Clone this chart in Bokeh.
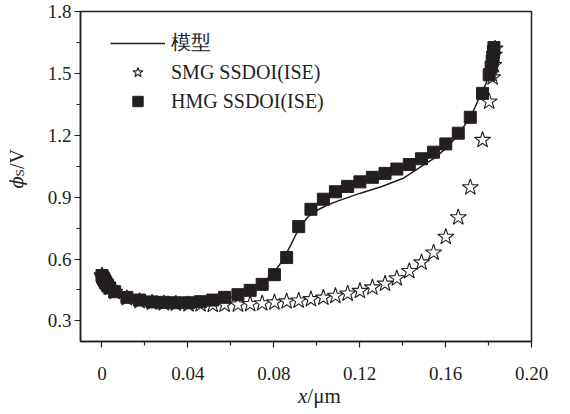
from bokeh.plotting import figure
from bokeh.models import FixedTicker, Legend, LegendItem, Range1d, Div
from bokeh.layouts import row, column
from bokeh.embed import file_html
from bokeh.resources import INLINE

# ---------------- data ----------------
model_x = [0.0, 0.002, 0.005, 0.010, 0.015, 0.020, 0.030, 0.040, 0.050, 0.055, 0.060, 0.065,
           0.070, 0.075, 0.080, 0.084, 0.088, 0.092, 0.096, 0.100, 0.105, 0.110, 0.115, 0.120,
           0.130, 0.140, 0.150, 0.155, 0.160, 0.165, 0.170, 0.1726, 0.176, 0.1788, 0.1805,
           0.1815, 0.1825]
model_y = [0.520, 0.480, 0.440, 0.415, 0.400, 0.392, 0.386, 0.388, 0.395, 0.402, 0.413, 0.428,
           0.450, 0.485, 0.535, 0.590, 0.670, 0.755, 0.805, 0.835, 0.862, 0.882, 0.900, 0.918,
           0.950, 0.990, 1.058, 1.090, 1.135, 1.190, 1.265, 1.310, 1.390, 1.450, 1.520,
           1.570, 1.620]

smg_x = [0.0, 0.0003, 0.0007, 0.0012, 0.0018, 0.0026, 0.0036, 0.0059, 0.0116, 0.0175, 0.0233,
         0.0288, 0.0344, 0.0403, 0.0459, 0.0516, 0.0571, 0.0633, 0.0690, 0.0746, 0.0803, 0.0860,
         0.0916, 0.0973, 0.1031, 0.1087, 0.1144, 0.1201, 0.1259, 0.1318, 0.1373, 0.1431, 0.1488,
         0.1544, 0.1601, 0.1659, 0.1715, 0.1772, 0.1803, 0.1819, 0.1824, 0.1827, 0.1830]
smg_y = [0.520, 0.512, 0.503, 0.494, 0.484, 0.472, 0.460, 0.440, 0.410, 0.395, 0.388,
         0.385, 0.383, 0.380, 0.380, 0.377, 0.378, 0.379, 0.381, 0.385, 0.389, 0.394,
         0.398, 0.405, 0.412, 0.421, 0.432, 0.445, 0.462, 0.480, 0.506, 0.541, 0.583,
         0.631, 0.707, 0.802, 0.947, 1.177, 1.363, 1.480, 1.540, 1.590, 1.620]

hmg_x = [0.0, 0.0003, 0.0007, 0.0012, 0.0018, 0.0026, 0.0036, 0.0059, 0.0116, 0.0175, 0.0233,
         0.0288, 0.0344, 0.0403, 0.0459, 0.0516, 0.0571, 0.0633, 0.0690, 0.0746, 0.0803, 0.0860,
         0.0916, 0.0973, 0.1031, 0.1087, 0.1144, 0.1201, 0.1259, 0.1318, 0.1373, 0.1431, 0.1488,
         0.1544, 0.1601, 0.1659, 0.1715, 0.1772, 0.1803, 0.1812, 0.1817, 0.1820, 0.1823, 0.1825]
hmg_y = [0.520, 0.512, 0.503, 0.494, 0.484, 0.472, 0.460, 0.441, 0.414, 0.401, 0.392,
         0.390, 0.388, 0.388, 0.393, 0.401, 0.414, 0.427, 0.448, 0.477, 0.524, 0.607,
         0.757, 0.841, 0.890, 0.926, 0.952, 0.974, 0.996, 1.015, 1.036, 1.058, 1.086,
         1.118, 1.158, 1.210, 1.287, 1.403, 1.493, 1.530, 1.560, 1.580, 1.600, 1.625]

x_ticks = [0.0, 0.04, 0.08, 0.12, 0.16, 0.20]
x_tick_labels = ["0", "0.04", "0.08", "0.12", "0.16", "0.20"]
x_minor = [0.02, 0.06, 0.10, 0.14, 0.18]
y_ticks = [0.3, 0.6, 0.9, 1.2, 1.5, 1.8]
y_tick_labels = ["0.3", "0.6", "0.9", "1.2", "1.5", "1.8"]
y_minor = [0.45, 0.75, 1.05, 1.35, 1.65]

legend_labels = ["模型", "SMG SSDOI(ISE)", "HMG SSDOI(ISE)"]

# ---------------- style ----------------
INK = "#231f20"
SERIF = "Liberation Serif"

p = figure(width=520, height=382, x_range=Range1d(-0.01, 0.20), y_range=Range1d(0.2, 1.8),
           output_backend="svg", toolbar_location=None,
           min_border_left=40, min_border_right=29, min_border_top=11, min_border_bottom=38)
p.grid.visible = False
p.outline_line_color = INK
p.outline_line_width = 1.5
p.background_fill_color = "white"
p.border_fill_color = "white"

p.xaxis.ticker = FixedTicker(ticks=x_ticks, minor_ticks=x_minor)
p.xaxis.major_label_overrides = dict(zip(x_ticks, x_tick_labels))
p.yaxis.ticker = FixedTicker(ticks=y_ticks, minor_ticks=y_minor)
p.yaxis.major_label_overrides = dict(zip(y_ticks, y_tick_labels))

for ax in (p.xaxis[0], p.yaxis[0]):
    ax.axis_line_color = INK
    ax.axis_line_width = 1.5
    ax.major_tick_line_color = INK
    ax.minor_tick_line_color = INK
    ax.major_tick_line_width = 1.2
    ax.minor_tick_line_width = 1.2
    ax.major_tick_in = 0
    ax.major_tick_out = 6
    ax.minor_tick_in = 0
    ax.minor_tick_out = 4
    ax.major_label_text_font = SERIF
    ax.major_label_text_font_size = "19px"
    ax.major_label_text_color = INK
p.xaxis.major_label_standoff = 19
p.yaxis.major_label_standoff = 3

r_line = p.line(model_x, model_y, line_color=INK, line_width=1.5)
r_smg = p.scatter(smg_x, smg_y, marker="star", size=17, fill_color="white",
                  line_color=INK, line_width=1.1)
r_hmg = p.scatter(hmg_x, hmg_y, marker="square", size=12, fill_color=INK, line_color=INK)

legend = Legend(items=[LegendItem(label=legend_labels[0], renderers=[r_line]),
                       LegendItem(label=legend_labels[1], renderers=[r_smg]),
                       LegendItem(label=legend_labels[2], renderers=[r_hmg])],
                location=(30, 227), margin=0, padding=0, spacing=3,
                glyph_width=55, glyph_height=26, label_height=24, label_standoff=6,
                label_text_font=SERIF, label_text_font_size="20px", label_text_color=INK,
                background_fill_alpha=0, border_line_alpha=0)
p.add_layout(legend)

# axis titles as real HTML text beside the figure
y_title = Div(width=40, height=382, margin=0, text=(
    '<div style="display:inline-block; writing-mode:vertical-rl; transform:rotate(180deg); '
    'margin-left:7px; margin-top:149px; font-family:\'Liberation Serif\'; font-size:20px; '
    'line-height:20px; color:#231f20; white-space:nowrap">'
    '<i style="font-family:\'DejaVu Serif\'; font-size:18px">ϕ</i>'
    '<span style="font-size:13px; position:relative; left:-3px">S</span>/V</div>'))
x_title = Div(width=560, height=24, margin=0, text=(
    '<div style="margin-left:298px; padding-top:4px; font-family:\'Liberation Serif\'; '
    'font-size:21px; line-height:20px; color:#231f20; white-space:nowrap"><i>x</i>/μm</div>'))

layout = column(row(y_title, p, spacing=0), x_title, spacing=0)

open("out.html", "w").write(file_html(layout, INLINE))
